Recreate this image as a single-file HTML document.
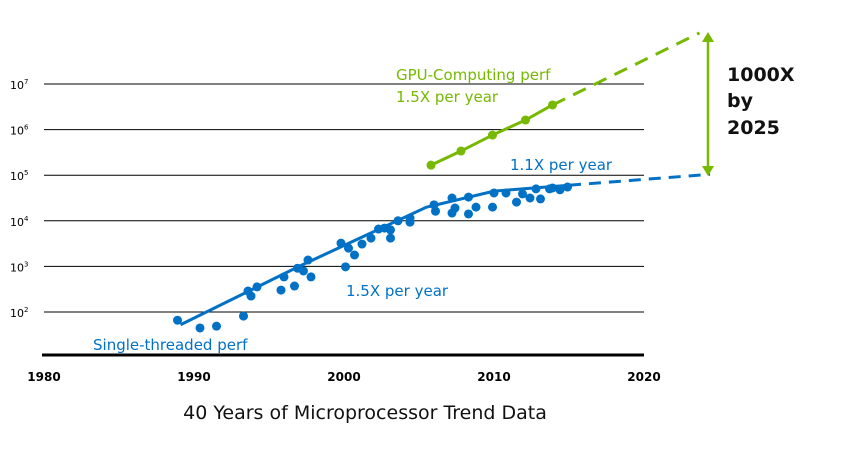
<!DOCTYPE html>
<html><head><meta charset="utf-8"><style>
body{margin:0;background:#fff}
svg{display:block;font-family:"DejaVu Sans","Liberation Sans",sans-serif}
</style></head><body>
<svg id="c" width="843" height="457"></svg>
<script>
const xTicks=[1980,1990,2000,2010,2020];
const yTicks=[2,3,4,5,6,7];
const cpuYears=[1988.9,1990.4,1991.5,1993.3,1993.6,1993.8,1994.2,1995.8,1996.0,1996.7,1996.9,1997.3,1997.6,1997.8,1999.8,2000.1,2000.3,2000.7,2001.2,2001.8,2002.3,2002.7,2003.1,2003.1,2003.6,2004.4,2004.4,2006.0,2006.1,2007.2,2007.2,2007.4,2008.3,2008.3,2008.8,2010.0,2009.9,2010.8,2011.5,2011.9,2012.4,2012.8,2013.1,2013.7,2013.9,2014.4,2014.9];
const cpuLogPerf=[1.82,1.65,1.69,1.91,2.46,2.35,2.55,2.48,2.77,2.57,2.96,2.90,3.14,2.77,3.51,2.99,3.40,3.25,3.49,3.62,3.82,3.84,3.62,3.80,4.00,3.97,4.06,4.35,4.21,4.50,4.17,4.28,4.52,4.15,4.30,4.61,4.30,4.61,4.41,4.59,4.50,4.70,4.48,4.70,4.72,4.68,4.74];
const cpuTrendYears=[1989.1,1997,2005.5,2010,2015];
const cpuTrendLog=[1.72,3.0,4.3,4.65,4.78];
const cpuProjYears=[2015,2024.4];
const cpuProjLog=[4.78,5.02];
const gpuYears=[2005.8,2007.8,2009.9,2012.1,2013.9];
const gpuLogPerf=[5.22,5.53,5.88,6.21,6.54];
const gpuProjYears=[2013.9,2023.7];
const gpuProjLog=[6.54,8.12];

const ns="http://www.w3.org/2000/svg",svg=document.getElementById('c');
const X=y=>44+(y-1980)*15, Y=v=>84+(7-v)*45.6;
const BLUE="#0071c5",GREEN="#76b900";
function mk(t,a,p){const e=document.createElementNS(ns,t);for(const k in a)e.setAttribute(k,a[k]);(p||svg).appendChild(e);return e;}
yTicks.forEach(v=>{
 const l=mk('line',{x1:44,x2:644,y1:Y(v),y2:Y(v),stroke:'#000','stroke-width':1});
 
 
 const t=mk('text',{x:10,y:Y(v)+5,'font-size':11,fill:'#000'});
 
 
 t.textContent='10';const s=mk('tspan',{dy:-5,'font-size':7},t);s.textContent=v;
});
const base=mk('line',{x1:42,x2:644,y1:355,y2:355,stroke:'#000','stroke-width':3});


xTicks.forEach(v=>{
 const t=mk('text',{x:X(v),y:381,'font-size':12,'font-weight':'bold','text-anchor':'middle',fill:'#000'});
 
 
 t.textContent=v;
});
function poly(xs,ys,col,dash,name){
 const p=mk('polyline',{points:xs.map((x,i)=>X(x)+','+Y(ys[i])).join(' '),fill:'none',stroke:col,'stroke-width':3,'stroke-dasharray':dash||'none'});
 
 
}
poly(cpuTrendYears,cpuTrendLog,BLUE,null,'cpu-trend-line');
poly(cpuProjYears,cpuProjLog,BLUE,'12 8','cpu-projection-line');
poly(gpuYears,gpuLogPerf,GREEN,null,'gpu-trend-line');
poly(gpuProjYears,gpuProjLog,GREEN,'14 9','gpu-projection-line');
cpuYears.forEach((y,i)=>{
 const c=mk('circle',{cx:X(y),cy:Y(cpuLogPerf[i]),r:4.5,fill:BLUE});
 
 
});
gpuYears.forEach((y,i)=>{
 const c=mk('circle',{cx:X(y),cy:Y(gpuLogPerf[i]),r:4.5,fill:GREEN});
 
 
});
const ar=mk('g',{});


mk('line',{x1:708,x2:708,y1:38,y2:170,stroke:GREEN,'stroke-width':2.5},ar);
mk('polygon',{points:'708,32 702,42 714,42',fill:GREEN},ar);
mk('polygon',{points:'708,176 702,166 714,166',fill:GREEN},ar);
function txt(x,y,s,sz,col,name,anchor,w){
 const t=mk('text',{x:x,y:y,'font-size':sz,fill:col,'font-weight':w||'normal','text-anchor':anchor||'start'});
 
 
 t.textContent=s;
}
txt(396,80,'GPU-Computing perf',15,GREEN,'gpu-label-title');
txt(396,102,'1.5X per year',15,GREEN,'gpu-label-rate');
txt(510,170,'1.1X per year',15,BLUE,'cpu-recent-rate-label');
txt(346,296,'1.5X per year',15,BLUE,'cpu-early-rate-label');
txt(93,350,'Single-threaded perf',15,BLUE,'cpu-label');
txt(727,81,'1000X',19,'#111','annotation-1000x','start','bold');
txt(727,107,'by',19,'#111','annotation-by','start','bold');
txt(727,134,'2025',19,'#111','annotation-2025','start','bold');
txt(365,419,'40 Years of Microprocessor Trend Data',19,'#111','chart-title','middle');
</script>
</body></html>
